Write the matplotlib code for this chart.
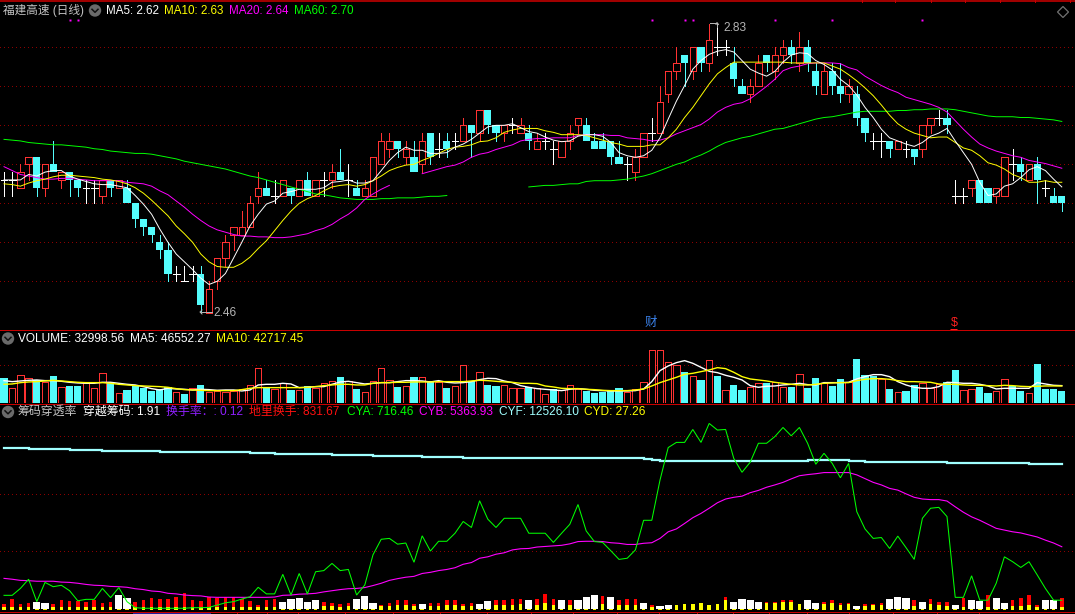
import numpy as np
import matplotlib
matplotlib.use("Agg")
import matplotlib.pyplot as plt
from matplotlib.patches import Circle, Polygon

plt.rcParams['font.family'] = ['Liberation Sans', 'Noto Sans CJK SC', 'DejaVu Sans']

# candles, price in yuan
opens = [2.63,2.63,2.62,2.65,2.66,2.62,2.65,2.63,2.64,2.63,2.62,2.62,2.61,2.63,2.62,2.62,2.60,2.58,2.57,2.55,
         2.54,2.51,2.50,2.51,2.51,2.46,2.50,2.53,2.56,2.56,2.57,2.61,2.62,2.61,2.61,2.62,2.61,2.63,2.61,2.63,
         2.63,2.64,2.63,2.62,2.61,2.61,2.65,2.67,2.68,2.66,2.66,2.65,2.69,2.67,2.68,2.68,2.68,2.70,2.69,2.72,
         2.70,2.69,2.70,2.69,2.69,2.67,2.68,2.67,2.66,2.68,2.70,2.70,2.68,2.68,2.68,2.66,2.65,2.64,2.66,2.69,
         2.69,2.74,2.77,2.79,2.77,2.80,2.78,2.80,2.80,2.78,2.75,2.74,2.75,2.79,2.77,2.79,2.80,2.78,2.80,2.77,
         2.74,2.77,2.75,2.74,2.74,2.71,2.68,2.68,2.68,2.67,2.67,2.67,2.67,2.70,2.71,2.71,2.61,2.61,2.62,2.63,
         2.62,2.61,2.61,2.65,2.65,2.63,2.65,2.62,2.61,2.61]
closes = [2.63,2.63,2.64,2.66,2.62,2.65,2.64,2.64,2.63,2.62,2.62,2.62,2.63,2.62,2.63,2.60,2.58,2.57,2.56,2.54,
          2.51,2.51,2.50,2.51,2.47,2.49,2.53,2.55,2.57,2.57,2.60,2.62,2.61,2.61,2.63,2.61,2.63,2.61,2.63,2.63,
          2.64,2.63,2.63,2.61,2.62,2.66,2.68,2.68,2.67,2.67,2.64,2.68,2.66,2.67,2.67,2.68,2.70,2.69,2.72,2.70,
          2.69,2.70,2.70,2.70,2.68,2.68,2.68,2.67,2.68,2.69,2.71,2.68,2.67,2.67,2.66,2.65,2.65,2.66,2.69,2.69,
          2.73,2.77,2.78,2.78,2.80,2.78,2.81,2.80,2.80,2.76,2.74,2.75,2.78,2.78,2.79,2.80,2.79,2.80,2.78,2.75,
          2.77,2.75,2.74,2.75,2.71,2.69,2.68,2.68,2.67,2.68,2.67,2.66,2.70,2.71,2.71,2.70,2.61,2.61,2.63,2.60,
          2.60,2.62,2.66,2.65,2.64,2.65,2.63,2.62,2.60,2.60]
highs = [2.64,2.64,2.65,2.66,2.66,2.65,2.68,2.64,2.64,2.63,2.63,2.63,2.63,2.63,2.63,2.63,2.60,2.58,2.57,2.56,
         2.55,2.52,2.52,2.52,2.52,2.50,2.53,2.56,2.57,2.59,2.61,2.64,2.63,2.63,2.63,2.62,2.63,2.64,2.63,2.64,
         2.65,2.67,2.65,2.63,2.63,2.66,2.69,2.69,2.68,2.68,2.68,2.69,2.69,2.69,2.69,2.69,2.71,2.70,2.72,2.72,
         2.70,2.70,2.71,2.71,2.70,2.69,2.69,2.68,2.68,2.70,2.71,2.71,2.69,2.69,2.68,2.68,2.66,2.67,2.69,2.71,
         2.75,2.77,2.80,2.79,2.80,2.80,2.83,2.83,2.81,2.80,2.76,2.76,2.79,2.79,2.80,2.81,2.81,2.82,2.81,2.78,
         2.78,2.78,2.78,2.76,2.75,2.71,2.69,2.69,2.68,2.68,2.68,2.67,2.70,2.71,2.72,2.72,2.63,2.62,2.63,2.63,
         2.62,2.62,2.66,2.67,2.66,2.65,2.66,2.63,2.62,2.61]
lows = [2.61,2.61,2.62,2.63,2.61,2.61,2.64,2.62,2.61,2.61,2.60,2.60,2.60,2.61,2.62,2.60,2.57,2.56,2.55,2.53,
        2.50,2.50,2.50,2.50,2.46,2.46,2.49,2.52,2.54,2.56,2.57,2.60,2.61,2.60,2.61,2.60,2.61,2.61,2.61,2.61,
        2.62,2.63,2.61,2.61,2.61,2.61,2.65,2.66,2.66,2.65,2.64,2.64,2.65,2.66,2.66,2.67,2.68,2.66,2.68,2.69,
        2.68,2.68,2.69,2.69,2.67,2.67,2.67,2.65,2.66,2.67,2.69,2.68,2.67,2.67,2.65,2.65,2.63,2.63,2.66,2.68,
        2.69,2.73,2.76,2.75,2.76,2.77,2.77,2.79,2.79,2.75,2.74,2.73,2.75,2.77,2.76,2.78,2.78,2.77,2.77,2.74,
        2.74,2.74,2.73,2.73,2.70,2.68,2.67,2.66,2.66,2.67,2.66,2.65,2.66,2.69,2.70,2.69,2.60,2.60,2.61,2.60,
        2.60,2.60,2.61,2.63,2.63,2.63,2.60,2.61,2.60,2.59]

nan = np.nan
ma5 = [2.630,2.630,2.630,2.637,2.635,2.640,2.642,2.642,2.635,2.631,2.628,2.625,2.624,2.624,2.622,2.620,2.610,2.599,2.586,2.567,
       2.550,2.535,2.525,2.515,2.504,2.496,2.500,2.510,2.530,2.550,2.571,2.586,2.599,2.603,2.613,2.615,2.618,2.618,2.618,2.620,
       2.627,2.628,2.630,2.626,2.626,2.629,2.642,2.655,2.665,2.672,2.668,2.668,2.664,2.664,2.665,2.672,2.676,2.682,2.690,2.698,
       2.700,2.700,2.702,2.697,2.692,2.690,2.685,2.681,2.679,2.680,2.686,2.688,2.688,2.686,2.678,2.665,2.661,2.659,2.661,2.668,
       2.684,2.708,2.731,2.751,2.772,2.783,2.791,2.795,2.797,2.794,2.783,2.772,2.767,2.763,2.769,2.781,2.790,2.793,2.792,2.783,
       2.778,2.771,2.759,2.751,2.739,2.723,2.710,2.695,2.684,2.680,2.676,2.673,2.678,2.686,2.690,2.696,2.680,2.665,2.650,2.627,
       2.610,2.612,2.622,2.625,2.633,2.643,2.647,2.642,2.631,2.621]
ma10 = [2.625,2.624,2.622,2.626,2.629,2.631,2.634,2.636,2.636,2.635,2.634,2.633,2.631,2.630,2.628,2.625,2.620,2.613,2.604,2.594,
        2.584,2.571,2.561,2.550,2.535,2.525,2.519,2.518,2.518,2.523,2.531,2.542,2.552,2.565,2.578,2.590,2.600,2.606,2.610,2.616,
        2.621,2.623,2.624,2.622,2.624,2.629,2.635,2.642,2.646,2.649,2.650,2.655,2.659,2.664,2.669,2.672,2.673,2.675,2.679,2.680,
        2.684,2.691,2.694,2.696,2.696,2.696,2.693,2.691,2.688,2.688,2.688,2.687,2.684,2.681,2.678,2.676,2.673,2.673,2.673,2.675,
        2.675,2.684,2.695,2.710,2.723,2.738,2.753,2.766,2.774,2.781,2.781,2.781,2.781,2.781,2.781,2.781,2.780,2.780,2.780,2.780,
        2.780,2.776,2.772,2.765,2.757,2.748,2.738,2.726,2.713,2.702,2.695,2.690,2.687,2.684,2.685,2.685,2.678,2.671,2.668,2.661,
        2.652,2.649,2.644,2.637,2.633,2.627,2.627,2.629,2.627,2.627]
ma20 = [2.647,2.642,2.637,2.635,2.633,2.631,2.631,2.632,2.632,2.631,2.630,2.629,2.629,2.629,2.629,2.627,2.626,2.625,2.622,2.616,
        2.611,2.603,2.595,2.586,2.578,2.571,2.566,2.563,2.560,2.558,2.558,2.557,2.557,2.556,2.556,2.557,2.559,2.561,2.565,2.568,
        2.573,2.580,2.586,2.594,2.605,2.612,2.618,2.623,nan,nan,nan,2.638,2.641,2.644,2.647,2.649,2.653,2.659,2.663,2.665,
        2.669,2.672,2.675,2.680,2.682,2.683,2.683,2.684,2.684,2.684,2.687,2.688,2.688,2.688,2.687,2.687,2.684,2.683,2.682,2.680,
        2.681,2.684,2.689,2.693,2.697,2.701,2.708,2.717,2.723,2.727,2.729,2.734,2.742,2.750,2.759,2.770,2.774,2.776,2.779,2.780,
        2.780,2.780,2.779,2.774,2.771,2.763,2.757,2.751,2.746,2.742,2.736,2.733,2.730,2.727,2.723,2.717,2.706,2.695,2.685,2.676,
        2.671,2.667,2.664,2.661,2.659,2.655,2.653,2.651,2.648,2.645]
ma60 = [2.682,2.681,2.680,2.678,2.677,2.676,2.675,2.675,2.674,2.673,2.672,2.670,2.669,2.667,2.666,2.665,2.664,2.664,2.663,2.661,
        2.659,2.657,2.654,2.652,2.650,2.648,2.646,2.644,2.641,2.638,2.635,2.633,2.630,2.627,2.624,2.621,2.618,2.615,2.612,2.611,
        2.609,2.607,2.606,2.605,2.605,2.605,2.606,2.606,2.607,2.607,2.607,2.608,2.609,2.609,2.610,nan,nan,nan,nan,nan,
        nan,nan,nan,nan,2.621,2.622,2.623,2.623,2.624,2.625,2.625,2.628,2.629,2.629,2.629,2.630,2.631,2.633,2.635,2.638,
        2.642,2.646,2.650,2.653,2.658,2.662,2.667,2.673,2.678,2.681,2.684,2.686,2.689,2.692,2.695,2.696,2.699,2.702,2.705,2.708,
        2.710,2.711,2.713,2.715,2.717,2.718,2.718,2.718,2.718,2.719,2.719,2.720,2.720,2.721,2.721,2.721,2.720,2.718,2.716,2.714,
        2.712,2.711,2.711,2.711,2.710,2.710,2.709,2.708,2.707,2.705]
flag_bars = [8,9,79,83,84,94,101,112]

# volume, read in screen ticks of the panel, 114 ticks = 100k
vol_ticks = [76,45,84,75,70,63,82,48,52,52,60,45,90,63,30,40,53,45,38,42,48,34,28,45,55,34,37,34,36,42,55,105,48,42,60,40,40,53,45,60,67,79,67,42,
             33,66,105,69,49,51,79,78,66,65,46,52,114,66,93,55,53,55,45,45,48,45,27,42,39,54,42,38,32,35,37,46,34,42,63,159,159,123,114,94,81,70,129,82,
             39,55,40,48,60,61,63,48,49,87,46,76,60,52,73,63,133,85,82,73,43,33,37,55,60,45,57,64,100,39,42,49,31,36,72,52,37,30,118,43,43,38]
vol_kind = ("crrrcrcrcc" "rrrcrccccc" "crcrcrrrrr" "rrcrrcrcrr" "rcrc"
            "rrrrcrcrcr" "crrcrccrrr" "crrcrrrccc" "ccrrrrrrrc" "rcrc"
            "rccrrcrrcr" "ccrccrcccr" "crccrrrccr" "rccrrccrcc" "cc")
vol_ma5 = [68,65,67,69,70,68,68,66,63,61,60,60,63,63,60,57,55,50,44,40,45,43,42,40,42,41,39,40,40,37,40,55,57,57,60,58,47,48,50,50,57,64,66,62,
           58,60,62,62,65,68,68,67,64,68,63,61,62,65,71,75,74,67,62,53,48,44,42,40,38,42,44,42,39,38,37,37,37,38,43,65,98,112,122,128,120,108,96,92,
           84,78,70,53,48,51,52,55,57,60,56,55,62,62,62,63,73,80,86,86,80,65,55,48,45,45,50,63,62,60,60,57,52,43,45,45,45,45,62,58,54,53]
vol_ma10 = [57,58,62,64,65,67,69,67,65,63,62,62,62,60,57,55,53,52,51,50,48,44,41,40,39,38,38,38,38,41,45,47,47,47,47,47,47,48,50,53,55,57,57,55,
            55,60,62,62,63,63,64,64,64,65,65,65,65,67,69,68,66,64,63,60,60,59,52,49,45,44,44,42,41,39,38,38,38,40,43,52,62,70,78,87,90,95,100,107,
            104,93,80,73,70,67,63,60,57,55,55,57,60,61,62,62,68,72,74,74,72,68,65,65,64,63,58,57,57,55,54,54,53,52,54,53,51,50,51,52,52,52]

# lower panel, chip indicator
cyf = [56.0]*3 + [55.7]*5 + [55.3]*4 + [55.0]*7 + [54.6]*11 + [54.3]*3 + [53.9]*7 + [53.6]*5 + [53.3]*6 + [52.9]*5 + [52.6]*22 \
      + [52.2] + [51.9] + [51.4]*18 + [51.9]*5 + [51.5]*2 + [51.2]*10 + [50.8]*10 + [50.5]*5
cya = [4.7,4.7,7.1,10.3,2.5,9.2,7.7,8.2,6.3,2.8,3.3,3.3,7.1,3.9,7.4,2.5,0.4,0.2,0.2,0.2,
       0.2,0.2,0.2,0.4,0.4,0.5,1.3,2.1,2.5,3.4,4.2,7.5,5.2,5.2,12.0,4.8,12.3,5.2,12.9,13.3,
       15.8,13.3,13.7,4.8,8.3,18.8,24.2,24.5,22.5,22.9,16.2,25.4,20.1,23.5,23.5,26.3,30.4,28.3,37.6,31.2,
       28.3,31.5,31.5,31.5,26.3,26.3,26.3,23.1,26.3,29.4,36.3,27.1,23.4,23.1,20.2,17.2,17.6,20.5,30.8,30.8,
       44.8,56.1,57.9,57.9,62.4,57.9,64.5,62.2,62.4,52.3,47.5,51.0,57.6,57.6,59.9,63.1,60.2,63.1,57.6,50.3,
       54.1,50.6,45.6,50.6,33.8,27.8,24.5,24.8,21.0,25.3,21.3,17.2,31.5,35.0,35.3,32.1,4.0,4.0,11.5,3.0,
       3.0,8.9,18.1,16.4,14.4,16.4,11.8,7.1,3.0,3.0]
cyb = [10.6,10.3,9.9,9.8,9.6,9.6,9.6,9.3,9.2,8.9,8.5,8.2,8.1,7.8,7.7,7.5,7.0,6.7,6.2,6.0,
       5.4,5.2,4.8,4.6,4.5,4.1,4.0,4.0,4.0,4.0,4.0,4.0,4.0,4.1,4.7,4.8,5.1,5.2,5.4,5.9,
       6.3,6.7,7.0,7.1,7.4,8.1,8.9,9.9,10.5,11.0,11.3,12.3,12.7,13.3,13.7,14.3,15.5,16.1,17.6,18.1,
       19.0,19.5,20.5,20.9,21.0,21.5,21.7,21.9,22.1,22.6,23.4,23.5,23.5,23.4,23.0,22.8,22.4,22.4,22.8,23.0,
       24.5,26.8,27.8,29.7,31.7,33.2,35.0,36.9,38.2,38.8,39.2,40.4,41.2,42.3,43.1,44.0,45.2,46.3,46.7,47.0,
       47.4,47.4,47.4,47.4,46.6,45.3,44.0,43.1,41.9,41.3,40.0,38.8,38.2,38.0,38.0,37.5,35.5,33.6,32.0,30.8,
       29.4,28.0,27.4,26.8,26.4,25.7,25.0,23.9,22.9,21.6]
bar_red = [2.1,3.7,2.1,2.6,0,0,2.1,3.5,3.2,3.1,2.9,3.5,2.3,2.9,0,0,2.9,3.5,4.2,3.8,
           3.7,4.6,6.0,3.5,3.2,4.6,4.2,4.4,4.4,3.7,3.2,1.7,3.5,3.7,0,0,0,0,0,2.9,
           2.6,2.2,2.6,0,0,0,1.9,2.6,3.6,3.4,2.2,0,2.6,2.6,3.6,3.4,2.0,2.4,0,0,
           3.4,3.4,3.7,3.7,0,3.7,5.7,3.8,0,3.4,0,0,0,4.8,0,3.6,3.9,3.9,0,1.6,
           0,0,0,0,0,0,0,0,4.4,0,0,0,0,2.9,2.9,3.4,3.4,0,0,0,
           2.9,3.4,2.4,2.6,0,2.2,2.2,2.6,0,0,0,3.4,0,3.7,2.9,2.9,0,4.3,0,0,
           5.2,0,0,3.4,4.3,5.3,1.9,0,0,4.0]
bar_yel = [0.9]*39 + [1.4,1.4,0.9,1.4,0.9,0.9,0.9,1.4,1.4,1.6,1.6,1.4,0.9,1.4,1.4,1.6,1.6,1.4,1.4,0.9,0.9,
           1.6,1.6,1.9,2.1,0.9,1.9,2.3,1.7,0.9,1.7,0.9,0.9,0.9,2.1,0.9,1.7,1.7,1.7,0.9,1.0,
           0.9,0.9,1.7,2.2,2.1,2.6,1.6,2.1,3.5,0.9,0.9,0.9,0.9,2.3,2.3,2.8,2.8,2.1,0.9,0.9,
           2.1,2.6,1.9,2.1,0.9,1.4,1.6,1.6,0.9,0.9,0.9,1.4,0.9,2.1,1.6,1.4,0.9,1.0,0.9,0.9,
           1.0,0.9,0.9,1.4,1.4,1.7,1.0,0.9,0.9,1.0]
white_bars = [4,5,14,15,34,35,36,37,38,43,44,45,51,58,59,64,68,70,71,72,74,78,80,81,89,90,91,92,98,99,104,108,109,110,112,116,118,119,121,122,127,128]
white_vals = [2.9,2.6,5.2,4.1,2.7,3.8,4.1,2.7,3.5,3.8,4.9,2.4,2.1,2.1,3.1,3.5,3.5,3.5,4.5,5.2,4.5,2.4,1.4,1.7,2.8,3.8,3.5,2.8,3.5,2.4,1.4,3.8,4.5,4.2,2.8,1.7,3.5,3.1,4.2,2.4,3.5,3.5]

W, H = 1075, 614
RED = '#ff3232'
CYAN = '#54fcfc'
GRID = '#8c0000'
dots = (0, (1, 4))
px = 0.72  # one pixel at dpi 100
x = np.arange(len(closes))
step = 8.2
xlim = (-4 / step, (W - 4) / step)

fig = plt.figure(figsize=(W / 100, H / 100), dpi=100, facecolor='black')


def panel(top, bottom):
    a = fig.add_axes([0, 1 - bottom / H, 1, (bottom - top) / H])
    a.set_facecolor('black')
    a.set_xlim(*xlim)
    a.axis('off')
    return a


def draw(a, vals, color, lw=0.7, **kw):
    a.plot(x, vals, color=color, lw=lw, zorder=5, solid_joinstyle='miter', **kw)


# main candles
ax = panel(2, 330)
ax.set_ylim(2.4376, 2.8581)
ax.hlines(np.arange(2.50, 2.81, 0.05), *xlim, color=GRID, lw=px, linestyles=[dots], zorder=1, antialiased=False)
for i in x:
    o, c, h, l = opens[i], closes[i], highs[i], lows[i]
    if o == c:
        ax.vlines(i, l, h, color='white', lw=px, zorder=3, antialiased=False)
        ax.hlines(c, i - 0.42, i + 0.42, color='white', lw=px, zorder=3, antialiased=False)
    else:
        col = RED if c > o else CYAN
        ax.vlines(i, max(o, c), h, color=col, lw=px, zorder=2, antialiased=False)
        ax.vlines(i, l, min(o, c), color=col, lw=px, zorder=2, antialiased=False)
        if c > o:
            ax.bar(i, c - o, bottom=o, width=0.76, facecolor='black', edgecolor=RED, lw=px, zorder=3, antialiased=False)
        else:
            ax.bar(i, o - c, bottom=c, width=0.88, facecolor=CYAN, lw=0, zorder=3, antialiased=False)
draw(ax, ma60, '#00ff00')
draw(ax, ma20, '#ff00ff')
draw(ax, ma10, '#ffff00')
draw(ax, ma5, '#ffffff')
ax.plot(flag_bars, [2.8344] * len(flag_bars), ls='none', marker='s', ms=2, mfc='#ff00ff', mec='none')

# volume
vol_unit = 100 / 114
ax2 = panel(330, 403.3)
ax2.set_ylim(0, 73.3 * 3 * vol_unit)
ax2.hlines(100, *xlim, color=GRID, lw=px, linestyles=[dots], zorder=1, antialiased=False)
vol = np.array(vol_ticks) * vol_unit
for i in x:
    if vol_kind[i] == 'c':
        ax2.bar(i, vol[i], width=0.88, facecolor=CYAN, lw=0, zorder=2, antialiased=False)
    else:
        ax2.bar(i, vol[i], width=0.76, facecolor='black', edgecolor=RED, lw=px, zorder=2, antialiased=False)
draw(ax2, np.array(vol_ma5) * vol_unit, '#ffffff', lw=1.0)
draw(ax2, np.array(vol_ma10) * vol_unit, '#ffff00', lw=1.0)

# chip panel
ax3 = panel(403.3, 612)
ax3.set_ylim(-1.1, 71.5)
ax3.hlines([20, 40, 60], *xlim, color=GRID, lw=px, linestyles=[dots], zorder=1, antialiased=False)
base = -0.4
ax3.bar(x, np.array(bar_yel), bottom=base, width=0.42, color='#ffff00', lw=0, zorder=2, antialiased=False)
reds = np.array(bar_red)
mask = reds > 0
ax3.bar(x[mask], reds[mask] - np.array(bar_yel)[mask], bottom=base + np.array(bar_yel)[mask], width=0.42,
        color='#ff0000', lw=0, zorder=2, antialiased=False)
ax3.bar(white_bars, np.array(white_vals) - 0.2, bottom=base + 0.2, width=0.9, color='white', lw=0, zorder=3, antialiased=False)
draw(ax3, cyb, '#ff00ff', lw=0.8)
ax3.plot(x, cyf, color='#a0ffff', lw=1.6, drawstyle='steps-post', zorder=5, solid_joinstyle='miter')
draw(ax3, cya, '#00ff00', lw=0.75)

# overlay in screen pixels: separators, header texts, icons
ov = fig.add_axes([0, 0, 1, 1], zorder=10)
ov.set_xlim(0, W)
ov.set_ylim(H, 0)
ov.axis('off')
ov.patch.set_alpha(0)
ov.hlines(1.2, 0, W, color='#a00000', lw=px * 1.6, antialiased=False)
ov.hlines([330.3, 403.5, 612.3], 0, W, color='#c80000', lw=px, antialiased=False)
ov.vlines([862, 895, 931, 965, 1000, 1035, 1070], 0, 2, color='#c80000', lw=px, antialiased=False)
ov.vlines([237, 267, 298, 345, 393, 440, 487, 531, 573, 617, 659, 697, 733, 769, 807, 849, 893, 937, 979], 612, 614,
          color='#c80000', lw=px, antialiased=False)
ov.hlines(613.3, 133, 210, color='#2020a0', lw=px, antialiased=False)


def label(x0, y0, txt, col, size=8.4):
    ov.text(x0, y0, txt, color=col, fontsize=size, va='center', ha='left')


def icon(cx, cy):
    ov.add_patch(Circle((cx, cy), 6.2, fc='#6a6a6a', ec='none'))
    ov.plot([cx - 3, cx, cx + 3], [cy - 1.2, cy + 1.8, cy - 1.2], color='#101010', lw=1.1)


label(3, 10.5, '福建高速 (日线)', '#c4c4c4', 8.4)
icon(95, 10.5)
label(106, 10.5, 'MA5: 2.62', '#ffffff')
label(164, 10.5, 'MA10: 2.63', '#ffff00')
label(229, 10.5, 'MA20: 2.64', '#ff00ff')
label(294, 10.5, 'MA60: 2.70', '#00ff00')

icon(8, 338.5)
label(18, 338.5, 'VOLUME: 32998.56', '#ffffff', 8.6)
label(130, 338.5, 'MA5: 46552.27', '#ffffff', 8.6)
label(216, 338.5, 'MA10: 42717.45', '#ffff00', 8.6)

icon(8, 412)
label(17, 412, '筹码穿透率', '#c4c4c4', 8.6)
label(83, 412, '穿越筹码: 1.91', '#ffffff', 8.6)
label(166, 412, '换手率：: 0.12', '#9020ff', 8.6)
label(249, 412, '地里换手: 831.67', '#ff1010', 8.6)
label(347, 412, 'CYA: 716.46', '#00ff00', 8.6)
label(419, 412, 'CYB: 5363.93', '#ff00ff', 8.6)
label(499, 412, 'CYF: 12526.10', '#a0ffff', 8.6)
label(584, 412, 'CYD: 27.26', '#ffff00', 8.6)

# high/low marks
gray = '#b4b4b4'
label(723, 28, '2.83', gray, 8.6)
ov.plot([710, 717, 717], [23, 23, 27], color=gray, lw=px)
ov.plot([716, 717, 718.5], [24.5, 22.5, 24.5], color=gray, lw=px)
label(213, 313, '2.46', gray, 8.6)
ov.plot([200, 212], [312, 312], color=gray, lw=px)
ov.plot([202, 200, 202], [310, 312, 314], color=gray, lw=px)
label(645, 323, '财', '#3a80e8', 9)
label(951, 323, '$', '#ff2020', 9)
ov.hlines(329, 950, 957, color='#ff2020', lw=px)
ov.add_patch(Polygon([(1063, 6.5), (1068.5, 12), (1063, 17.5), (1057.5, 12)], fc='none', ec='#707070', lw=0.9))

fig.savefig('out.png', dpi=100, facecolor='black')
